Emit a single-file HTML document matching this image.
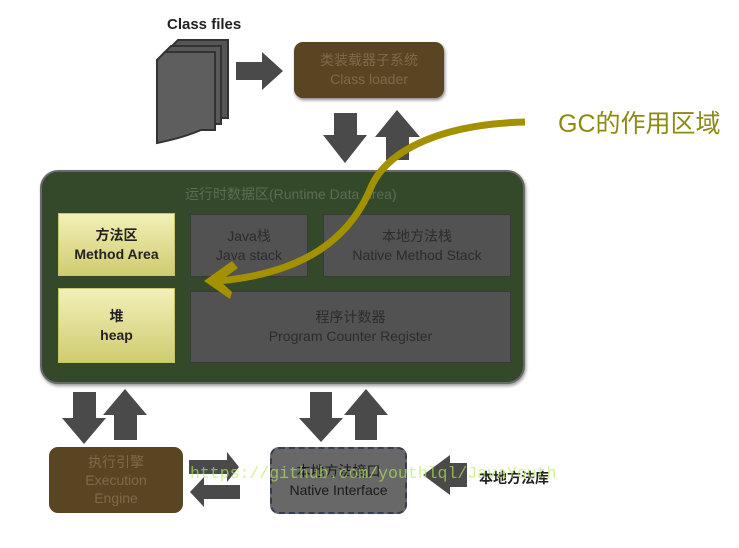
<!DOCTYPE html>
<html><head><meta charset="utf-8"><style>
body{margin:0;width:739px;height:548px;background:#fff;position:relative;overflow:hidden;font-family:"Liberation Sans","Noto Sans CJK SC",sans-serif}
.a{position:absolute}
.t{position:absolute;text-align:center;display:flex;flex-direction:column;justify-content:center;align-items:center;line-height:19px;font-size:14px}
</style></head><body>
<div class="a" style="left:167px;top:16px;font-size:15px;font-weight:bold;color:#222">Class files</div>
<div class="t" style="left:294px;top:42px;width:150px;height:56px;background:#5a4522;border-radius:9px;color:#7d6a4a;box-shadow:1px 2px 3px #888">类装载器子系统<span>Class loader</span></div>
<div class="a" style="left:40px;top:170px;width:481px;height:210px;background:#34482a;border:2px solid #6a6a6a;border-radius:18px;box-shadow:1px 2px 3px #999"></div>
<div class="a" style="left:185px;top:184px;font-size:14px;color:#5e6c52">运行时数据区(Runtime Data Area)</div>
<div class="t" style="left:58px;top:213px;width:115px;height:61px;background:linear-gradient(#f2f0b8,#cfcc70);border:1px solid #c8c46a;font-weight:bold;color:#222">方法区<span>Method Area</span></div>
<div class="t" style="left:58px;top:288px;width:115px;height:73px;background:linear-gradient(#f2f0b8,#cfcc70);border:1px solid #c8c46a;font-weight:bold;color:#222">堆<span>heap</span></div>
<div class="t" style="left:190px;top:214px;width:116px;height:61px;background:#525252;border:1px solid #3a3a3a;color:#2c2c2c">Java栈<span>Java stack</span></div>
<div class="t" style="left:323px;top:214px;width:186px;height:61px;background:#525252;border:1px solid #3a3a3a;color:#2c2c2c">本地方法栈<span>Native Method Stack</span></div>
<div class="t" style="left:190px;top:291px;width:319px;height:70px;background:#525252;border:1px solid #3a3a3a;color:#2c2c2c">程序计数器<span>Program Counter Register</span></div>
<div class="t" style="left:49px;top:447px;width:134px;height:66px;background:#5a4522;border-radius:9px;color:#7d6a4a;line-height:18px">执行引擎<span>Execution</span><span>Engine</span></div>
<div class="t" style="left:270px;top:447px;width:133px;height:63px;background:#686868;border:2px dashed #333d55;border-radius:9px;color:#1a1a1a">本地方法接口<span>Native Interface</span></div>
<div class="a" style="left:479px;top:468px;font-size:14px;font-weight:bold;color:#222">本地方法库</div>
<div class="a" style="left:558px;top:104px;font-size:25px;color:#8c8a10">GC的作用区域</div>
<svg class="a" style="left:0;top:0" width="739" height="548">
<g fill="#4a4a4a">
<path d="M170,48 L178,40 L228,40 L228,118 L214,118 C200,124 185,128 170,131 Z" fill="#555" stroke="#333" stroke-width="2"/>
<path d="M163,54 L171,46 L221,46 L221,124 L207,124 C193,130 178,134 163,137 Z" fill="#595959" stroke="#333" stroke-width="2"/>
<path d="M157,60 L165,52 L215,52 L215,130 L201,130 C187,136 172,140 157,143 Z" fill="#5e5e5e" stroke="#333" stroke-width="2"/>
<polygon points="236,62 262,62 262,52 283,71 262,90 262,80 236,80"/>
<polygon points="334,113 357,113 357,135 367,135 345,163 323,135 334,135"/>
<polygon points="386,160 409,160 409,137 420,137 397,110 375,137 386,137"/>
<polygon points="73,392 96,392 96,418 106,418 84,444 62,418 73,418"/>
<polygon points="114,440 137,440 137,415 147,415 125,389 103,415 114,415"/>
<polygon points="310,392 332,392 332,418 343,418 321,442 299,418 310,418"/>
<polygon points="355,440 377,440 377,415 388,415 366,389 344,415 355,415"/>
<polygon points="189,460 227,460 227,452 239,467 227,482 227,474 189,474"/>
<polygon points="240,485 240,499 204,499 204,507 190,492 204,477 204,485"/>
<polygon points="467,463 450,463 450,455 423,475 450,495 450,487 467,487"/>
</g>
<path d="M525,122 C445,124 390,148 372,185 C356,225 320,272 218,281" fill="none" stroke="#a39100" stroke-width="7"/>
<polygon points="232,261 204,281 230,299 232,292 220,281 238,268" fill="#a39100"/>
</svg>
<div class="a" style="left:190px;top:464px;font-family:'Liberation Mono',monospace;font-size:16.5px;color:#b6ea60;opacity:.65">https://github.com/youthlql/JavaYouth</div>
</body></html>
